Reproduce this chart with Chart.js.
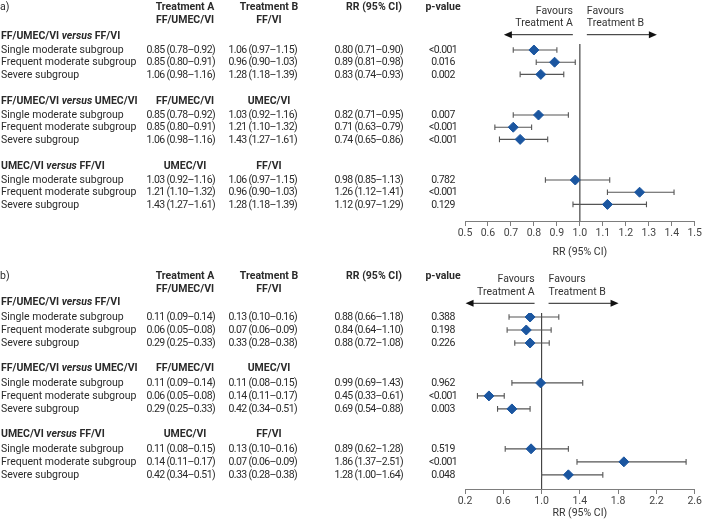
<!DOCTYPE html>
<html><head><meta charset="utf-8">
<script src="https://cdn.jsdelivr.net/npm/chart.js@4/dist/chart.umd.min.js"></script>
<style>
html,body{margin:0;padding:0;background:#fff;}
#wrap{position:relative;width:703px;height:528px;}
canvas{position:absolute;left:0;}
</style></head><body>
<div id="wrap">
<canvas id="ca" width="703" height="264" style="top:0"></canvas>
<canvas id="cb" width="703" height="264" style="top:264px"></canvas>
</div>
<script>
// ---------- data ----------
const subgroups = ["Single moderate subgroup", "Frequent moderate subgroup", "Severe subgroup"];
const comparisonA = ["FF/UMEC/VI", "FF/UMEC/VI", "UMEC/VI"];
const comparisonB = ["FF/VI", "UMEC/VI", "FF/VI"];
const columnHeaders = ["Treatment A", "Treatment B", "RR (95% CI)", "p-value"];
const favoursLeft = ["Favours", "Treatment A"];
const favoursRight = ["Favours", "Treatment B"];
const axisTitle = "RR (95% CI)";

// panel a)
const aTrtA   = [0.85, 0.85, 1.06, 0.85, 0.85, 1.06, 1.03, 1.21, 1.43];
const aTrtALo = [0.78, 0.80, 0.98, 0.78, 0.80, 0.98, 0.92, 1.10, 1.27];
const aTrtAHi = [0.92, 0.91, 1.16, 0.92, 0.91, 1.16, 1.16, 1.32, 1.61];
const aTrtB   = [1.06, 0.96, 1.28, 1.03, 1.21, 1.43, 1.06, 0.96, 1.28];
const aTrtBLo = [0.97, 0.90, 1.18, 0.92, 1.10, 1.27, 0.97, 0.90, 1.18];
const aTrtBHi = [1.15, 1.03, 1.39, 1.16, 1.32, 1.61, 1.15, 1.03, 1.39];
const aRR     = [0.80, 0.89, 0.83, 0.82, 0.71, 0.74, 0.98, 1.26, 1.12];
const aRRLo   = [0.71, 0.81, 0.74, 0.71, 0.63, 0.65, 0.85, 1.12, 0.97];
const aRRHi   = [0.90, 0.98, 0.93, 0.95, 0.79, 0.86, 1.13, 1.41, 1.29];
const aP      = ["<0.001", "0.016", "0.002", "0.007", "<0.001", "<0.001", "0.782", "<0.001", "0.129"];
const aTicks  = [0.5, 0.6, 0.7, 0.8, 0.9, 1.0, 1.1, 1.2, 1.3, 1.4, 1.5];

// panel b)
const bTrtA   = [0.11, 0.06, 0.29, 0.11, 0.06, 0.29, 0.11, 0.14, 0.42];
const bTrtALo = [0.09, 0.05, 0.25, 0.09, 0.05, 0.25, 0.08, 0.11, 0.34];
const bTrtAHi = [0.14, 0.08, 0.33, 0.14, 0.08, 0.33, 0.15, 0.17, 0.51];
const bTrtB   = [0.13, 0.07, 0.33, 0.11, 0.14, 0.42, 0.13, 0.07, 0.33];
const bTrtBLo = [0.10, 0.06, 0.28, 0.08, 0.11, 0.34, 0.10, 0.06, 0.28];
const bTrtBHi = [0.16, 0.09, 0.38, 0.15, 0.17, 0.51, 0.16, 0.09, 0.38];
const bRR     = [0.88, 0.84, 0.88, 0.99, 0.45, 0.69, 0.89, 1.86, 1.28];
const bRRLo   = [0.66, 0.64, 0.72, 0.69, 0.33, 0.54, 0.62, 1.37, 1.00];
const bRRHi   = [1.18, 1.10, 1.08, 1.43, 0.61, 0.88, 1.28, 2.51, 1.64];
const bP      = ["0.388", "0.198", "0.226", "0.962", "<0.001", "0.003", "0.519", "<0.001", "0.048"];
const bTicks  = [0.2, 0.6, 1.0, 1.4, 1.8, 2.2, 2.6];

// ---------- styling / layout ----------
const FONT = "Roboto";
const TEXT = "#2a2a2a";
const BLUE = "#1b56a0";
const WHISKER = "#555555";
const AXIS = "#7d7d7d";
const FS = 10.5;
const NUM_SPACING = "-0.6px";

const panels = [
  { id: "ca", label: "a)", trtA: aTrtA, trtALo: aTrtALo, trtAHi: aTrtAHi, trtB: aTrtB, trtBLo: aTrtBLo, trtBHi: aTrtBHi,
    rr: aRR, rrLo: aRRLo, rrHi: aRRHi, p: aP, ticks: aTicks, xMin: 0.5, xMax: 1.5,
    stride: 5.33, yMin: 0.508, yMax: 15.02, top: 44, padBottom: 5, axisH: 38,
    hdr1Y: 7, hdr2Y: 20, fav1Y: 11, fav2Y: 23.5, arrowY: 34.7 },
  { id: "cb", label: "b)", trtA: bTrtA, trtALo: bTrtALo, trtAHi: bTrtAHi, trtB: bTrtB, trtBLo: bTrtBLo, trtBHi: bTrtBHi,
    rr: bRR, rrLo: bRRLo, rrHi: bRRHi, p: bP, ticks: bTicks, xMin: 0.2, xMax: 2.6,
    stride: 5.07, yMin: 0.692, yMax: 14.23, top: 49, padBottom: 8, axisH: 31,
    hdr1Y: 12, hdr2Y: 25, fav1Y: 15.3, fav2Y: 28.3, arrowY: 39.3 }
];

const COL_A_HDR = 185, COL_B_HDR = 269, RR_HDR = 374, P_X = 443;
const COL_A_R = 215, COL_B_R = 297, RR_R = 403;

function rowValue(p, i) { return Math.floor(i / 3) * p.stride + (i % 3) + 1; }
function headerValue(p, g) { return g * p.stride - 0.15; }
function fmt(v, lo, hi) { return v.toFixed(2) + " (" + lo.toFixed(2) + "\u2013" + hi.toFixed(2) + ")"; }
function setFont(ctx, bold, italic) {
  ctx.font = (italic ? "italic " : "") + (bold ? "bold " : "") + FS + "px " + FONT;
}
function drawRich(ctx, segs, x, y) {
  let cx = x;
  segs.forEach(s => {
    setFont(ctx, s.b, s.i);
    ctx.textAlign = "left";
    ctx.fillText(s.t, cx, y);
    cx += ctx.measureText(s.t).width;
  });
}
function arrow(ctx, x0, x1, y) {
  const dir = Math.sign(x1 - x0);
  ctx.beginPath();
  ctx.moveTo(x0, y);
  ctx.lineTo(x1 - dir * 6, y);
  ctx.stroke();
  ctx.beginPath();
  ctx.moveTo(x1, y);
  ctx.lineTo(x1 - dir * 8, y - 3.5);
  ctx.lineTo(x1 - dir * 8, y + 3.5);
  ctx.closePath();
  ctx.fill();
}

function tablePlugin(p) {
  return {
    id: "table_" + p.id,
    afterDraw(chart) {
      const ctx = chart.ctx;
      const ys = chart.scales.y, xs = chart.scales.x;
      ctx.save();
      ctx.fillStyle = TEXT;
      ctx.strokeStyle = "#222";
      ctx.lineWidth = 1;
      ctx.textBaseline = "middle";
      // panel label
      setFont(ctx, false, false); ctx.textAlign = "left";
      ctx.fillText(p.label, 0, p.hdr1Y);
      // column headers
      setFont(ctx, true, false); ctx.textAlign = "center";
      ctx.fillText(columnHeaders[0], COL_A_HDR, p.hdr1Y);
      ctx.fillText(columnHeaders[1], COL_B_HDR, p.hdr1Y);
      ctx.fillText(columnHeaders[2], RR_HDR, p.hdr1Y);
      ctx.fillText(columnHeaders[3], P_X, p.hdr1Y);
      ctx.fillText(comparisonA[0], COL_A_HDR, p.hdr2Y);
      ctx.fillText(comparisonB[0], COL_B_HDR, p.hdr2Y);
      for (let g = 0; g < 3; g++) {
        const gy = ys.getPixelForValue(headerValue(p, g));
        drawRich(ctx, [{t: comparisonA[g] + " ", b: true}, {t: "versus", b: true, i: true}, {t: " " + comparisonB[g], b: true}], 1, gy);
        if (g > 0) {
          setFont(ctx, true, false); ctx.textAlign = "center";
          ctx.fillText(comparisonA[g], COL_A_HDR, gy);
          ctx.fillText(comparisonB[g], COL_B_HDR, gy);
        }
        for (let r = 0; r < 3; r++) {
          const i = g * 3 + r;
          const y = ys.getPixelForValue(rowValue(p, i)) + 0.5;
          setFont(ctx, false, false);
          ctx.textAlign = "left";
          ctx.fillText(subgroups[r], 1, y);
          ctx.letterSpacing = NUM_SPACING;
          ctx.textAlign = "right";
          ctx.fillText(fmt(p.trtA[i], p.trtALo[i], p.trtAHi[i]), COL_A_R, y);
          ctx.fillText(fmt(p.trtB[i], p.trtBLo[i], p.trtBHi[i]), COL_B_R, y);
          ctx.fillText(fmt(p.rr[i], p.rrLo[i], p.rrHi[i]), RR_R, y);
          ctx.textAlign = "center";
          ctx.fillText(p.p[i], P_X, y);
          ctx.letterSpacing = "0px";
        }
      }
      // favours annotation
      const x1 = xs.getPixelForValue(1);
      setFont(ctx, false, false);
      ctx.fillStyle = "#333";
      ctx.textAlign = "right";
      ctx.fillText(favoursLeft[0], x1 - 7, p.fav1Y);
      ctx.fillText(favoursLeft[1], x1 - 7, p.fav2Y);
      ctx.textAlign = "left";
      ctx.fillText(favoursRight[0], x1 + 7, p.fav1Y);
      ctx.fillText(favoursRight[1], x1 + 7, p.fav2Y);
      ctx.fillStyle = "#111";
      arrow(ctx, x1 - 7, x1 - 76, p.arrowY);
      arrow(ctx, x1 + 7, x1 + 77, p.arrowY);
      ctx.restore();
    }
  };
}

panels.forEach(p => {
  const datasets = [];
  datasets.push({
    data: p.rr.map((v, i) => ({x: v, y: rowValue(p, i)})),
    showLine: false, pointStyle: "rectRot", pointRadius: 5,
    backgroundColor: BLUE, borderColor: BLUE, pointBorderWidth: 1
  });
  p.rr.forEach((v, i) => {
    datasets.push({
      data: [{x: p.rrLo[i], y: rowValue(p, i)}, {x: p.rrHi[i], y: rowValue(p, i)}],
      showLine: true, borderColor: WHISKER, borderWidth: 1.1,
      pointStyle: "line", pointRotation: 90, pointRadius: 2.8,
      pointBorderColor: WHISKER, pointBorderWidth: 1.1, backgroundColor: WHISKER
    });
  });
  datasets.push({
    data: [{x: 1, y: p.yMin}, {x: 1, y: p.yMax}],
    showLine: true, borderColor: "#444", borderWidth: 1.2, pointRadius: 0
  });
  new Chart(document.getElementById(p.id), {
    type: "scatter",
    data: { datasets },
    options: {
      responsive: false, animation: false, devicePixelRatio: 1, events: [],
      layout: { padding: { left: 465, right: 8, top: p.top, bottom: p.padBottom } },
      plugins: { legend: { display: false }, tooltip: { enabled: false }, title: { display: false } },
      scales: {
        x: {
          type: "linear", min: p.xMin, max: p.xMax,
          afterBuildTicks: s => { s.ticks = p.ticks.map(v => ({value: v})); },
          afterFit: s => { s.height = p.axisH; },
          grid: { drawOnChartArea: false, drawTicks: true, tickLength: 5, color: AXIS, lineWidth: 1 },
          border: { display: true, color: AXIS, width: 1 },
          ticks: { font: { family: FONT, size: FS }, color: "#444", padding: 1, maxRotation: 0, autoSkip: false,
                   callback: v => Number(v).toFixed(1) },
          title: { display: true, text: axisTitle, font: { family: FONT, size: FS }, color: "#333", padding: 0 }
        },
        y: { type: "linear", reverse: true, min: p.yMin, max: p.yMax, display: false }
      }
    },
    plugins: [tablePlugin(p)]
  });
});
</script>
</body></html>
